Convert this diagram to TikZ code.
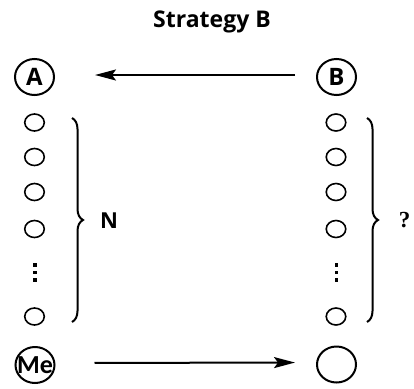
\documentclass[tikz,border=0pt]{standalone}
\usepackage{fontspec}
\setmainfont{Open Sans}
\newfontfamily\mefont{Carlito}
\newfontfamily\qfont{Liberation Serif}
\usetikzlibrary{arrows.meta,shapes.geometric,decorations.pathreplacing}
\begin{document}
\begin{tikzpicture}[x=1pt,y=-1pt,
  big/.style={draw,ellipse,line width=2pt,minimum width=39pt,minimum height=36pt,inner sep=0pt,
    font=\fontsize{24}{28}\selectfont\bfseries},
  small/.style={draw,ellipse,line width=1.6pt,minimum width=19.5pt,minimum height=17pt,inner sep=0pt},
  arr/.style={line width=2pt,-{Stealth[length=21pt,width=11pt,inset=4pt]}},
  curly/.style={line width=2pt,decorate,decoration={brace,amplitude=11pt}},
  lbl/.style={font=\fontsize{22}{26}\selectfont\bfseries},
  vdot/.style={fill,rectangle,inner sep=0pt,minimum size=3.2pt}]
\useasboundingbox (0,0) rectangle (414,388);

% title
\node[anchor=base,font=\fontsize{23}{28}\selectfont\bfseries] (title) at (212,27) {Strategy B};

% players
\node[big] (A) at (34.5,77) {A};
\node[big] (B) at (336.5,77) {B};
\node[big] (Me) at (35,365) {\makebox[0pt]{\mefont\fontsize{26}{30}\selectfont\bfseries Me}};
\node[big] (C) at (336.5,364.5) {};

% columns of small nodes
\foreach \col/\x in {L/34.5,R/336}{
  \foreach \i/\y in {1/122.5,2/157,3/192,4/229,5/316.5}{
    \node[small] (\col\i) at (\x,\y) {};
  }
  \foreach \j/\y in {1/265,2/272.5,3/280}{
    \node[vdot] (\col d\j) at (\x+0.5,\y) {};
  }
}

% arrows
\draw[arr,shorten <=21pt,shorten >=40pt] ([yshift=2pt]B.center -| B.west) -- ([yshift=2pt]A.center -| A.east);
\draw[arr,shorten <=39pt,shorten >=21pt] ([yshift=2pt]Me.center -| Me.east) -- ([yshift=2pt]C.center -| C.west);

% braces
\coordinate (lt) at (72,118);
\coordinate (lb) at (72,322);
\coordinate (rt) at (367,118);
\coordinate (rb) at (367,322);
\draw[curly] (lt) -- (lb);
\draw[curly] (rt) -- (rb);

\node[lbl] (N) at (109,221) {N};
\node[font=\qfont\fontsize{23}{27}\selectfont\bfseries] (Q) at (404.5,220) {?};
\end{tikzpicture}
\end{document}
